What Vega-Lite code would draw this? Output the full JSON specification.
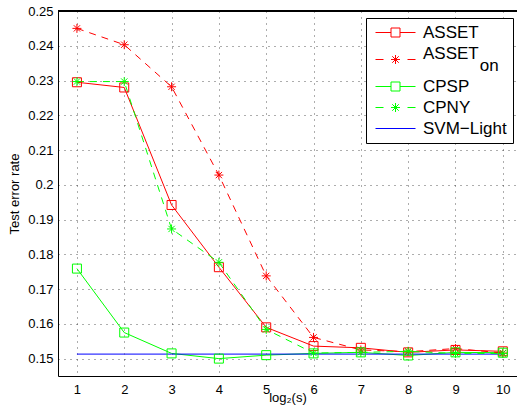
{
  "$schema": "https://vega.github.io/schema/vega-lite/v6.json",
  "autosize": "none",
  "width": 459,
  "height": 365,
  "padding": {"left": 58, "top": 11, "right": 0, "bottom": 37},
  "background": "white",
  "config": {
    "view": {"stroke": null},
    "font": "Liberation Sans",
    "axis": {
      "labelFont": "Liberation Sans", "labelFontSize": 13, "labelColor": "black", "labelOverlap": false,
      "titleFont": "Liberation Sans", "titleFontSize": 13, "titleFontWeight": "normal", "titleColor": "black",
      "domainColor": "black", "domainWidth": 1, "ticks": false,
      "gridColor": "#333333", "gridDash": [1, 5], "gridWidth": 1, "gridOpacity": 0.8
    }
  },
  "data": {"values": [
    {"s": 1, "e": 0.2295, "series": "ASSET"},
    {"s": 2, "e": 0.2280, "series": "ASSET"},
    {"s": 3, "e": 0.1942, "series": "ASSET"},
    {"s": 4, "e": 0.1763, "series": "ASSET"},
    {"s": 5, "e": 0.1590, "series": "ASSET"},
    {"s": 6, "e": 0.1536, "series": "ASSET"},
    {"s": 7, "e": 0.1531, "series": "ASSET"},
    {"s": 8, "e": 0.1518, "series": "ASSET"},
    {"s": 9, "e": 0.1525, "series": "ASSET"},
    {"s": 10, "e": 0.1521, "series": "ASSET"},
    {"s": 1, "e": 0.2450, "series": "ASSET_on"},
    {"s": 2, "e": 0.2403, "series": "ASSET_on"},
    {"s": 3, "e": 0.2282, "series": "ASSET_on"},
    {"s": 4, "e": 0.2028, "series": "ASSET_on"},
    {"s": 5, "e": 0.1738, "series": "ASSET_on"},
    {"s": 6, "e": 0.1561, "series": "ASSET_on"},
    {"s": 7, "e": 0.1525, "series": "ASSET_on"},
    {"s": 8, "e": 0.1520, "series": "ASSET_on"},
    {"s": 9, "e": 0.1529, "series": "ASSET_on"},
    {"s": 10, "e": 0.1516, "series": "ASSET_on"},
    {"s": 1, "e": 0.1759, "series": "CPSP"},
    {"s": 2, "e": 0.1575, "series": "CPSP"},
    {"s": 3, "e": 0.1515, "series": "CPSP"},
    {"s": 4, "e": 0.1500, "series": "CPSP"},
    {"s": 5, "e": 0.1510, "series": "CPSP"},
    {"s": 6, "e": 0.1515, "series": "CPSP"},
    {"s": 7, "e": 0.1518, "series": "CPSP"},
    {"s": 8, "e": 0.1509, "series": "CPSP"},
    {"s": 9, "e": 0.1518, "series": "CPSP"},
    {"s": 10, "e": 0.1517, "series": "CPSP"},
    {"s": 1, "e": 0.2297, "series": "CPNY"},
    {"s": 2, "e": 0.2297, "series": "CPNY"},
    {"s": 3, "e": 0.1873, "series": "CPNY"},
    {"s": 4, "e": 0.1777, "series": "CPNY"},
    {"s": 5, "e": 0.1584, "series": "CPNY"},
    {"s": 6, "e": 0.1516, "series": "CPNY"},
    {"s": 7, "e": 0.1518, "series": "CPNY"},
    {"s": 8, "e": 0.1521, "series": "CPNY"},
    {"s": 9, "e": 0.1515, "series": "CPNY"},
    {"s": 10, "e": 0.1515, "series": "CPNY"},
    {"s": 1, "e": 0.1513, "series": "SVM−Light"},
    {"s": 2, "e": 0.1513, "series": "SVM−Light"},
    {"s": 3, "e": 0.1513, "series": "SVM−Light"},
    {"s": 4, "e": 0.1513, "series": "SVM−Light"},
    {"s": 5, "e": 0.1513, "series": "SVM−Light"},
    {"s": 6, "e": 0.1513, "series": "SVM−Light"},
    {"s": 7, "e": 0.1513, "series": "SVM−Light"},
    {"s": 8, "e": 0.1513, "series": "SVM−Light"},
    {"s": 9, "e": 0.1513, "series": "SVM−Light"},
    {"s": 10, "e": 0.1513, "series": "SVM−Light"}
  ]},
  "layer": [
    {
      "encoding": {
        "x": {"field": "s", "type": "quantitative",
          "scale": {"domain": [0.6, 10.3], "nice": false, "zero": false},
          "axis": {"orient": "bottom", "values": [1,2,3,4,5,6,7,8,9,10], "title": "log₂(s)",
            "labelPadding": 7, "titlePadding": -5, "grid": true, "labelFlush": false}},
        "y": {"field": "e", "type": "quantitative",
          "scale": {"domain": [0.145, 0.25], "nice": false, "zero": false},
          "axis": {"values": [0.15,0.16,0.17,0.18,0.19,0.2,0.21,0.22,0.23,0.24,0.25], "format": ".2~f",
            "title": "Test error rate", "labelPadding": 5, "titlePadding": 6, "grid": true, "labelFlush": false}},
        "color": {"field": "series", "type": "nominal",
          "scale": {"domain": ["ASSET", "ASSET_on", "CPSP", "CPNY", "SVM−Light"],
                    "range": ["#ff0000", "#ff0000", "#00ff00", "#00ff00", "#0000ff"]},
          "legend": {
            "orient": "none", "legendX": 308, "legendY": 7, "title": null,
            "fillColor": "white", "strokeColor": "black", "padding": 6, "cornerRadius": 0,
            "rowPadding": 3, "symbolSize": 100, "symbolStrokeWidth": 1, "symbolFillColor": "transparent",
            "symbolOffset": 15, "labelOffset": 19,
            "labelFont": "Liberation Sans", "labelFontSize": 17, "labelColor": "black", "labelLimit": 0,
            "labelExpr": "datum.label == 'ASSET_on' ? ['ASSET', '\u200b\u00a0\u00a0\u00a0\u00a0\u00a0\u00a0\u00a0\u00a0\u00a0\u00a0\u00a0\u00a0on'] : datum.label",
            "encode": {
              "symbols": {"update": {
                "shape": {"signal": "(datum.value == 'ASSET' || datum.value == 'CPSP') ? 'M-4,0H-0.9M0.9,0H4M-0.9,-0.9H0.9V0.9H-0.9Z' : (datum.value == 'ASSET_on' || datum.value == 'CPNY') ? 'M-4,0H-2.4M2.4,0H4M-0.9,0H0.9M0,-0.9V0.9M-0.65,-0.65L0.65,0.65M-0.65,0.65L0.65,-0.65' : 'M-4,0H4'"}
              }},
              "labels": {"update": {
                "lineHeight": {"signal": "12"},
                "dy": {"signal": "datum.value == 'ASSET_on' ? -6 : 0"}
              }}
            }
          }}
      },
      "layer": [
        {
          "transform": [{"filter": "datum.series == 'ASSET' || datum.series == 'CPSP' || datum.series == 'SVM−Light'"}],
          "mark": {"type": "line", "strokeWidth": 1}
        },
        {
          "transform": [{"filter": "datum.series == 'ASSET_on' || datum.series == 'CPNY'"}],
          "mark": {"type": "line", "strokeWidth": 1, "strokeDash": [7, 6]}
        },
        {
          "transform": [{"filter": "datum.series != 'SVM−Light'"}],
          "mark": {"type": "point", "filled": false, "strokeWidth": 1, "size": 81, "opacity": 1},
          "encoding": {
            "shape": {"field": "series", "type": "nominal",
              "scale": {"domain": ["ASSET", "ASSET_on", "CPSP", "CPNY"],
                        "range": ["square", "M-1,0H1M0,-1V1M-0.7,-0.7L0.7,0.7M-0.7,0.7L0.7,-0.7", "square", "M-1,0H1M0,-1V1M-0.7,-0.7L0.7,0.7M-0.7,0.7L0.7,-0.7"]},
              "legend": null}
          }
        }
      ]
    },
    {
      "mark": {"type": "rule", "color": "black", "strokeWidth": 1},
      "encoding": {"y": {"datum": 0.25, "type": "quantitative",
        "axis": {"values": [0.15,0.16,0.17,0.18,0.19,0.2,0.21,0.22,0.23,0.24,0.25], "format": ".2~f",
          "title": "Test error rate", "labelPadding": 5, "titlePadding": 6, "grid": true, "labelFlush": false}}}
    }
  ]
}
